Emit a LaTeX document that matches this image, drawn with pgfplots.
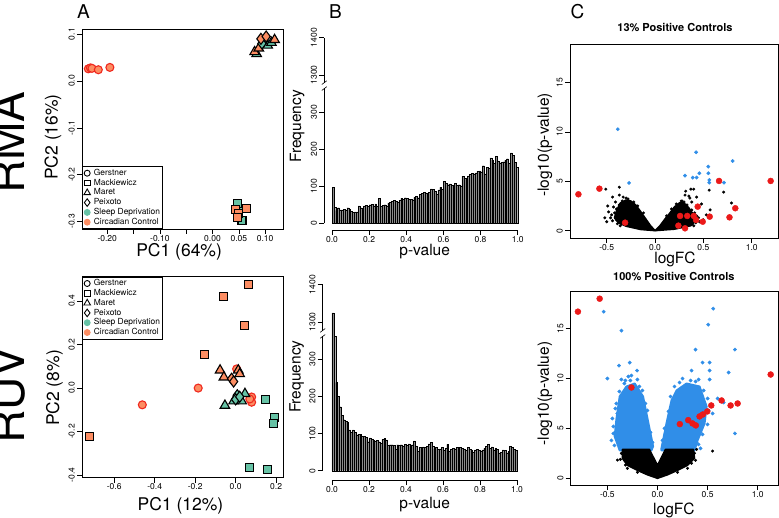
\documentclass[border=0pt]{standalone}
\usepackage{fontspec}
\setmainfont{TeX Gyre Heros}
\usepackage{pgfplots}
\pgfplotsset{compat=1.18}
\definecolor{sdcol}{RGB}{102,194,165}
\definecolor{cccol}{RGB}{252,141,98}
\definecolor{ccred}{RGB}{240,40,30}
\definecolor{vred}{RGB}{235,25,25}
\definecolor{vblue}{RGB}{48,142,232}
\newcommand\tickf{\fontsize{8.5}{9}\selectfont}
\newcommand\labA{\fontsize{17.5}{18}\selectfont}
\newcommand\labB{\fontsize{15.5}{16}\selectfont}
\pgfplotsset{
  rbase/.style={scale only axis, tick align=outside, major tick length=5pt,
    tick style={black, line width=0.6pt},
    ticklabel style={font=\tickf},
    xticklabel style={inner sep=1pt},
    yticklabel style={rotate=90, anchor=south, inner sep=2pt},
    xtick pos=bottom, ytick pos=left,
    /pgf/number format/assume math mode=true},
  rbox/.style={rbase, axis line style={line width=0.8pt}},
  gcirc/.style={only marks, mark=*, mark size=4pt, mark options={fill=cccol, draw=ccred, line width=1.1pt}, forget plot},
  msq/.style={only marks, mark=square*, mark size=4pt, mark options={fill=#1, draw=black, line width=1.1pt}, forget plot},
  mtri/.style={only marks, mark=triangle*, mark size=5.5pt, mark options={fill=#1, draw=black, line width=1.1pt}, forget plot},
  mdia/.style={only marks, mark=diamond*, mark size=5.5pt, mark options={fill=#1, draw=black, line width=1.1pt}, forget plot},
  legA/.style={legend cell align=left,
    legend image code/.code={\draw[##1] plot coordinates {(4pt,0pt)};},
    legend style={draw=black, line width=0.8pt, font=\fontsize{8.4}{9}\selectfont,
      inner sep=1.5pt, nodes={inner sep=0.9pt, text height=6.2pt, text depth=1.8pt}, row sep=0pt, column sep=2.5pt}},
  histo/.style={ybar, bar width=0.01, fill=black!45, draw=black, line width=0.3pt},
  bk/.style={only marks, mark=*, mark size=1.3pt, black, forget plot},
  bl/.style={only marks, mark=*, mark size=1.7pt, vblue, forget plot},
  rd/.style={only marks, mark=*, mark size=3pt, vred, forget plot},
}
\begin{document}
\begin{tikzpicture}
\useasboundingbox (0pt,0pt) rectangle (779pt,517pt);
% row labels and panel letters
\node[rotate=90, anchor=base, font=\fontsize{46}{46}\selectfont, inner sep=0pt] at (25pt,374.5pt) {RMA};
\node[rotate=90, anchor=base, font=\fontsize{46}{46}\selectfont, inner sep=0pt] at (25pt,122pt) {RUV};
\node[anchor=base, font=\fontsize{19}{19}\selectfont, inner sep=0pt] at (83.5pt,498.5pt) {A};
\node[anchor=base, font=\fontsize{19}{19}\selectfont, inner sep=0pt] at (335.5pt,498.5pt) {B};
\node[anchor=base, font=\fontsize{19}{19}\selectfont, inner sep=0pt] at (577.5pt,498.5pt) {C};

% ---------------- A top (RMA PCA)
\begin{axis}[rbox, legA, at={(82pt,288pt)}, anchor=south west, width=201pt, height=200pt,
  xmin=-0.248, xmax=0.134, ymin=-0.316, ymax=0.111,
  xtick={-0.2,-0.15,-0.1,-0.05,0,0.05,0.1}, xticklabels={-0.20,,-0.10,,0.00,0.05,0.10},
  ytick={-0.3,-0.2,-0.1,0,0.1}, yticklabels={-0.3,-0.2,-0.1,0.0,0.1},
  xlabel={PC1 (64\%)}, ylabel={PC2 (16\%)},
  xlabel style={font=\labA, at={(axis description cs:0.483,-0.113)}, anchor=center},
  ylabel style={font=\labA, at={(axis description cs:-0.144,0.46)}, anchor=center},
  legend style={at={(0,0)}, anchor=south west}]
\addlegendimage{only marks, mark=o, mark size=3pt, black, line width=0.9pt}
\addlegendentry{Gerstner}
\addlegendimage{only marks, mark=square, mark size=2.8pt, black, line width=0.9pt}
\addlegendentry{Mackiewicz}
\addlegendimage{only marks, mark=triangle, mark size=3.8pt, black, line width=0.9pt}
\addlegendentry{Maret}
\addlegendimage{only marks, mark=diamond, mark size=3.8pt, black, line width=0.9pt}
\addlegendentry{Peixoto}
\addlegendimage{only marks, mark=*, mark size=3pt, sdcol}
\addlegendentry{Sleep Deprivation}
\addlegendimage{only marks, mark=*, mark size=3pt, cccol}
\addlegendentry{Circadian Control}
\addplot[gcirc] coordinates {(-0.236,0.026) (-0.232,0.028) (-0.229,0.027) (-0.217,0.024) (-0.195,0.029)};
\addplot[msq=sdcol] coordinates {(0.047,-0.262) (0.05,-0.278) (0.056,-0.297)};
\addplot[msq=cccol] coordinates {(0.043,-0.274) (0.065,-0.272) (0.05,-0.283) (0.047,-0.292)};
\addplot[mtri=sdcol] coordinates {(0.084,0.058) (0.105,0.076) (0.112,0.082)};
\addplot[mtri=cccol] coordinates {(0.080,0.062) (0.088,0.070) (0.118,0.088)};
\addplot[mdia=sdcol] coordinates {(0.097,0.085) (0.094,0.080)};
\addplot[mdia=cccol] coordinates {(0.092,0.090) (0.102,0.095)};
\end{axis}

% ---------------- A bottom (RUV PCA)
\begin{axis}[rbox, legA, at={(82pt,39.3pt)}, anchor=south west, width=201pt, height=201pt,
  xmin=-0.759, xmax=0.234, ymin=-0.412, ymax=0.512,
  xtick={-0.6,-0.4,-0.2,0,0.2}, xticklabels={-0.6,-0.4,-0.2,0.0,0.2},
  ytick={-0.4,-0.2,0,0.2,0.4}, yticklabels={-0.4,-0.2,0.0,0.2,0.4},
  xlabel={PC1 (12\%)}, ylabel={PC2 (8\%)},
  xlabel style={font=\labA, at={(axis description cs:0.49,-0.138)}, anchor=center},
  ylabel style={font=\labA, at={(axis description cs:-0.137,0.446)}, anchor=center},
  legend style={at={(0,1)}, anchor=north west}]
\addlegendimage{only marks, mark=o, mark size=3pt, black, line width=0.9pt}
\addlegendentry{Gerstner}
\addlegendimage{only marks, mark=square, mark size=2.8pt, black, line width=0.9pt}
\addlegendentry{Mackiewicz}
\addlegendimage{only marks, mark=triangle, mark size=3.8pt, black, line width=0.9pt}
\addlegendentry{Maret}
\addlegendimage{only marks, mark=diamond, mark size=3.8pt, black, line width=0.9pt}
\addlegendentry{Peixoto}
\addlegendimage{only marks, mark=*, mark size=3pt, sdcol}
\addlegendentry{Sleep Deprivation}
\addlegendimage{only marks, mark=*, mark size=3pt, cccol}
\addlegendentry{Circadian Control}
\addplot[gcirc] coordinates {(-0.461,-0.077) (-0.185,0.0) (0.005,0.088) (0.079,-0.041) (0.079,-0.065) (0.07,-0.05)};
\addplot[msq=cccol] coordinates {(0.062,0.476) (-0.061,0.42) (0.043,0.289) (-0.155,0.154) (-0.724,-0.221)};
\addplot[msq=sdcol] coordinates {(0.148,-0.052) (0.067,-0.367) (0.158,-0.375) (0.194,-0.134) (0.186,-0.164)};
\addplot[mtri=cccol] coordinates {(-0.077,0.082) (-0.058,0.05) (0.013,0.082) (0.02,0.065)};
\addplot[mtri=sdcol] coordinates {(-0.053,-0.08) (0.046,-0.026) (0.03,-0.06) (-0.01,-0.06)};
\addplot[mdia=cccol] coordinates {(-0.02,0.043) (-0.01,0.03)};
\addplot[mdia=sdcol] coordinates {(0.008,-0.033) (0.0,-0.052) (0.02,-0.04)};
\end{axis}

% ---------------- B top (RMA p-value histogram)
\begin{axis}[rbase, at={(324.3pt,287pt)}, anchor=south west, width=193.4pt, height=192.3pt,
  xmin=-0.0415, xmax=1, ymin=-18.1, ymax=1400,
  axis x line*=bottom, axis y line*=left, axis line style={draw=none}, clip=false,
  y coord trafo/.code={\pgfmathparse{ifthenelse(#1>1000,#1-900,#1)}},
  ytick={0,100,200,300,1300,1400}, yticklabels={0,100,200,300,1300,1400},
  xtick={0,0.2,0.4,0.6,0.8,1}, xticklabels={0.0,0.2,0.4,0.6,0.8,1.0},
  xlabel={p-value}, ylabel={Frequency},
  xlabel style={font=\labB, at={(axis description cs:0.519,-0.11)}, anchor=center},
  ylabel style={font=\labB, at={(axis description cs:-0.140,0.538)}, anchor=center}]
\addplot[histo] coordinates {
(0.005,97) (0.015,43) (0.025,34) (0.035,42) (0.045,36) (0.055,36) (0.065,37) (0.075,35) (0.085,42) (0.095,38)
(0.105,33) (0.115,29) (0.125,31) (0.135,31) (0.145,47) (0.155,42) (0.165,38) (0.175,47) (0.185,48) (0.195,46)
(0.205,50) (0.215,51) (0.225,46) (0.235,52) (0.245,45) (0.255,67) (0.265,45) (0.275,48) (0.285,50) (0.295,46)
(0.305,55) (0.315,57) (0.325,60) (0.335,61) (0.345,59) (0.355,56) (0.365,62) (0.375,67) (0.385,64) (0.395,69)
(0.405,68) (0.415,65) (0.425,64) (0.435,63) (0.445,70) (0.455,72) (0.465,69) (0.475,78) (0.485,81) (0.495,84)
(0.505,82) (0.515,80) (0.525,84) (0.535,93) (0.545,91) (0.555,86) (0.565,78) (0.575,90) (0.585,97) (0.595,92)
(0.605,113) (0.615,108) (0.625,104) (0.635,106) (0.645,103) (0.655,100) (0.665,108) (0.675,103) (0.685,104) (0.695,101)
(0.705,127) (0.715,121) (0.725,119) (0.735,128) (0.745,132) (0.755,134) (0.765,133) (0.775,136) (0.785,140) (0.795,141)
(0.805,139) (0.815,155) (0.825,133) (0.835,150) (0.845,148) (0.855,176) (0.865,170) (0.875,162) (0.885,181) (0.895,168)
(0.905,163) (0.915,165) (0.925,166) (0.935,170) (0.945,174) (0.955,162) (0.965,190) (0.975,183) (0.985,165) (0.995,150)};
\draw[line width=0.6pt] (axis cs:0,-18.1) -- (axis cs:1,-18.1);
\draw[line width=0.6pt] (axis cs:-0.0415,0) -- (axis cs:-0.0415,364);
\draw[line width=0.6pt] (axis cs:-0.0415,378) -- (axis cs:-0.0415,1400);
\draw[line width=0.6pt] ([xshift=-2.5pt]axis cs:-0.0415,358) -- ([xshift=2.5pt]axis cs:-0.0415,368);
\draw[line width=0.6pt] ([xshift=-2.5pt]axis cs:-0.0415,374) -- ([xshift=2.5pt]axis cs:-0.0415,384);
\end{axis}

% ---------------- B bottom (RUV p-value histogram)
\begin{axis}[rbase, at={(322.7pt,37pt)}, anchor=south west, width=194.3pt, height=195.3pt,
  xmin=-0.050, xmax=1, ymin=-25, ymax=1400,
  axis x line*=bottom, axis y line*=left, axis line style={draw=none}, clip=false,
  y coord trafo/.code={\pgfmathparse{ifthenelse(#1>1000,#1-900,#1)}},
  ytick={0,100,200,300,1300,1400}, yticklabels={0,100,200,300,1300,1400},
  xtick={0,0.2,0.4,0.6,0.8,1}, xticklabels={0.0,0.2,0.4,0.6,0.8,1.0},
  xlabel={p-value}, ylabel={Frequency},
  xlabel style={font=\labB, at={(axis description cs:0.525,-0.125)}, anchor=center},
  ylabel style={font=\labB, at={(axis description cs:-0.134,0.529)}, anchor=center}]
\addplot[histo] coordinates {
(0.005,1324) (0.015,361) (0.025,237) (0.035,200) (0.045,172) (0.055,149) (0.065,137) (0.075,132) (0.085,130) (0.095,110)
(0.105,103) (0.115,110) (0.125,103) (0.135,96) (0.145,98) (0.155,97) (0.165,92) (0.175,92) (0.185,90) (0.195,78)
(0.205,88) (0.215,84) (0.225,82) (0.235,80) (0.245,81) (0.255,78) (0.265,73) (0.275,84) (0.285,87) (0.295,83)
(0.305,69) (0.315,70) (0.325,70) (0.335,69) (0.345,57) (0.355,70) (0.365,69) (0.375,70) (0.385,67) (0.395,71)
(0.405,68) (0.415,72) (0.425,68) (0.435,70) (0.445,80) (0.455,67) (0.465,52) (0.475,63) (0.485,58) (0.495,64)
(0.505,62) (0.515,65) (0.525,72) (0.535,76) (0.545,65) (0.555,58) (0.565,62) (0.575,58) (0.585,59) (0.595,63)
(0.605,55) (0.615,60) (0.625,71) (0.635,52) (0.645,58) (0.655,60) (0.665,59) (0.675,62) (0.685,51) (0.695,62)
(0.705,60) (0.715,59) (0.725,55) (0.735,62) (0.745,57) (0.755,56) (0.765,50) (0.775,56) (0.785,57) (0.795,55)
(0.805,53) (0.815,56) (0.825,60) (0.835,66) (0.845,71) (0.855,60) (0.865,64) (0.875,56) (0.885,61) (0.895,58)
(0.905,48) (0.915,49) (0.925,56) (0.935,55) (0.945,48) (0.955,52) (0.965,66) (0.975,63) (0.985,58) (0.995,54)};
\draw[line width=0.6pt] (axis cs:0,-25) -- (axis cs:1,-25);
\draw[line width=0.6pt] (axis cs:-0.05,0) -- (axis cs:-0.05,362);
\draw[line width=0.6pt] (axis cs:-0.05,376) -- (axis cs:-0.05,1400);
\draw[line width=0.6pt] ([xshift=-2.5pt]axis cs:-0.05,356) -- ([xshift=2.5pt]axis cs:-0.05,366);
\draw[line width=0.6pt] ([xshift=-2.5pt]axis cs:-0.05,372) -- ([xshift=2.5pt]axis cs:-0.05,382);
\end{axis}

% ---------------- C top (13% positive controls volcano)
\begin{axis}[rbox, at={(570pt,279pt)}, anchor=south west, width=208.3pt, height=193.7pt,
  xmin=-0.88, xmax=1.275, ymin=-0.74, ymax=18.85,
  xtick={-0.5,0,0.5,1}, xticklabels={-0.5,0.0,0.5,1.0},
  ytick={0,5,10,15}, yticklabels={0,5,10,15},
  xlabel={logFC}, ylabel={-log10(p-value)},
  title={13\% Positive Controls},
  title style={font=\bfseries\fontsize{11}{12}\selectfont, at={(axis description cs:0.504,1)}, anchor=center, yshift=10.3pt},
  xlabel style={font=\labB, at={(axis description cs:0.504,-0.11)}, anchor=center},
  ylabel style={font=\labB, at={(axis description cs:-0.120,0.48)}, anchor=center}]
\addplot[fill=black, draw=black, line width=1.5pt, line join=round, forget plot] coordinates {
(0,0) (-0.05,0.55) (-0.1,1.25) (-0.15,1.95) (-0.2,2.6) (-0.25,3.0) (-0.3,3.1) (-0.36,2.8) (-0.4,2.0) (-0.42,1.3) (-0.38,0.8) (-0.3,0.45) (-0.15,0.12)} -- cycle;
\addplot[fill=black, draw=black, line width=1.5pt, line join=round, forget plot] coordinates {
(0,0) (0.05,0.5) (0.1,1.15) (0.15,1.75) (0.2,2.4) (0.25,2.8) (0.3,2.8) (0.35,2.3) (0.4,1.6) (0.42,1.0) (0.37,0.5) (0.2,0.15)} -- cycle;
\addplot[bk] coordinates {(-0.51,4.2) (-0.49,2.5) (-0.37,4.4) (-0.37,3.6) (-0.44,3.4) (-0.41,2.9) (-0.48,1.9) (-0.46,1.3) (-0.52,1.3) (-0.42,1.8) (-0.37,2.6) (-0.4,2.2) (-0.44,1.0) (-0.39,0.7) (-0.33,3.4) (-0.3,3.3)
(-0.28,3.2) (-0.22,2.9) (-0.18,2.5) (-0.12,1.8) (-0.34,3.0) (-0.43,2.4) (-0.45,1.6) (-0.5,0.9) (-0.36,0.5) (-0.4,1.1)
(0.317,4.0) (0.37,4.2) (0.40,4.2) (0.36,3.3) (0.30,2.9) (0.56,4.1) (0.71,3.9) (0.79,2.8) (0.57,2.1) (0.53,1.6) (0.38,2.9) (0.43,3.4) (0.48,2.7) (0.41,1.8) (0.45,1.3) (0.5,1.1) (0.42,0.8) (0.27,3.0)
(0.22,2.7) (0.28,3.0) (0.33,2.6) (0.38,2.1) (0.43,1.5) (0.46,0.9) (0.4,0.5) (0.17,2.2) (0.12,1.5) (0.35,3.5) (0.31,3.6)};
\addplot[bl] coordinates {(-0.386,10.26) (-0.269,4.83) (0.424,7.93) (0.803,7.05) (0.551,6.48) (0.551,5.81) (0.459,5.81) (0.31,5.57) (0.39,5.37) (0.43,5.37) (0.561,5.13) (0.561,4.86) (0.713,4.86)};
\addplot[rd] coordinates {(-0.793,3.68) (-0.576,4.25) (-0.31,0.81) (0.241,0.51) (0.31,0.24) (0.259,1.49) (0.333,1.49) (0.40,1.49) (0.441,2.43) (0.424,1.08) (0.493,0.91) (0.565,1.42) (0.662,5.03) (0.77,1.35) (0.83,2.27) (1.196,5.03)};
\end{axis}

% ---------------- C bottom (100% positive controls volcano)
\begin{axis}[rbox, at={(570.7pt,32pt)}, anchor=south west, width=207.6pt, height=193.3pt,
  xmin=-0.866, xmax=1.206, ymin=-0.67, ymax=18.7,
  xtick={-0.5,0,0.5,1}, xticklabels={-0.5,0.0,0.5,1.0},
  ytick={0,5,10,15}, yticklabels={0,5,10,15},
  xlabel={logFC}, ylabel={-log10(p-value)},
  title={100\% Positive Controls},
  title style={font=\bfseries\fontsize{11}{12}\selectfont, at={(axis description cs:0.497,1)}, anchor=center, yshift=9.4pt},
  xlabel style={font=\labB, at={(axis description cs:0.497,-0.13)}, anchor=center},
  ylabel style={font=\labB, at={(axis description cs:-0.124,0.473)}, anchor=center}]
\addplot[fill=vblue, draw=vblue, line width=2pt, line join=round, forget plot] coordinates {
(-0.41,5.9) (-0.377,8.2) (-0.31,9.2) (-0.227,9.5) (-0.144,8.2) (-0.09,5.5) (-0.044,3.2) (-0.06,2.8) (-0.377,2.8) (-0.427,4.2)} -- cycle;
\addplot[fill=vblue, draw=vblue, line width=2pt, line join=round, forget plot] coordinates {
(0.04,3.0) (0.09,5.5) (0.14,7.8) (0.19,8.8) (0.29,9.5) (0.42,9.2) (0.49,7.2) (0.47,5.5) (0.40,3.8) (0.37,2.8) (0.04,2.8)} -- cycle;
\addplot[bl] coordinates {(-0.537,16.7) (-0.36,14.8) (-0.277,11.6) (-0.384,11.3) (-0.204,10.8) (-0.50,10.0) (-0.36,9.9) (-0.29,10.2) (-0.26,10.3) (-0.44,4.5) (-0.39,4.7) (-0.45,6.0) (-0.42,7.0) (-0.32,9.8) (-0.18,9.2) (-0.12,7.5)
(-0.43,3.3) (-0.44,5.2) (-0.41,7.5) (-0.38,8.7) (-0.33,9.5) (-0.27,9.8) (-0.2,9.9) (-0.15,8.8) (-0.1,6.8) (-0.07,4.6) (-0.05,3.6) (-0.46,3.8) (-0.4,6.5)
(0.556,17.0) (0.506,15.4) (0.38,12.9) (0.773,12.9) (0.45,11.6) (0.52,11.6) (0.34,10.8) (0.52,10.8) (0.71,10.6) (0.52,9.9) (0.773,4.5) (0.41,9.9) (0.25,10.0) (0.6,8.0) (0.55,6.5) (0.66,7.6)
(0.05,3.8) (0.07,5.0) (0.11,6.7) (0.13,8.2) (0.17,9.2) (0.22,9.6) (0.33,9.8) (0.38,9.7) (0.46,8.8) (0.5,8.0) (0.51,6.8) (0.5,5.4) (0.45,4.4) (0.41,3.4) (0.43,3.0)};
\addplot[fill=black, draw=black, line width=1.5pt, line join=round, forget plot] coordinates {
(0,0) (-0.1,0.35) (-0.2,0.8) (-0.3,1.3) (-0.35,2.0) (-0.35,2.9) (-0.08,2.9) (0,1.3) (0.08,2.9) (0.36,2.9) (0.37,2.0) (0.3,1.3) (0.2,0.8) (0.1,0.35)} -- cycle;
\addplot[bk] coordinates {(-0.40,1.83) (-0.32,1.33) (0.39,2.9) (0.55,2.73) (0.32,2.2) (0.34,1.5)
(-0.36,2.5) (-0.37,1.9) (-0.3,1.0) (0.37,2.5) (0.38,1.8) (0.3,1.0) (-0.2,0.6) (0.2,0.6)};
\addplot[rd] coordinates {(-0.794,16.7) (-0.577,18.0) (-0.26,9.1) (1.13,10.4) (0.223,5.43) (0.307,5.83) (0.35,5.5) (0.383,5.3) (0.42,6.2) (0.453,6.4) (0.497,6.7) (0.537,7.3) (0.64,7.8) (0.73,7.3) (0.80,7.5)};
\end{axis}
\end{tikzpicture}
\end{document}
